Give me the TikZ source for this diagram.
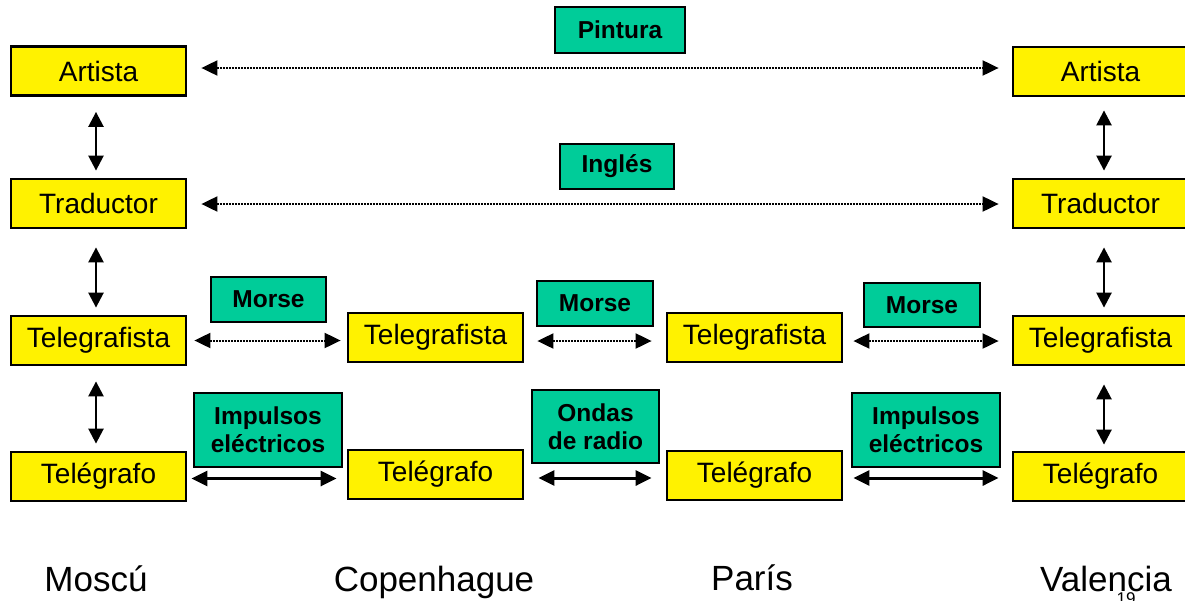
\documentclass[tikz,border=0pt]{standalone}
\usepackage{fontspec}
\setmainfont{Liberation Sans}
\usetikzlibrary{arrows.meta}
\definecolor{verde}{RGB}{0,204,153}

\begin{document}
\begin{tikzpicture}[x=1pt,y=-1pt,
  persona/.style={draw, line width=2.8pt, fill=yellow, minimum width=175pt, minimum height=49pt, inner sep=0pt, font=\fontsize{28}{30}\selectfont},
  medio/.style={draw, line width=2.8pt, fill=verde, inner sep=0pt, align=center, font=\bfseries\fontsize{24.5}{28}\selectfont},
  ciudad/.style={anchor=base, font=\fontsize{35}{40}\selectfont},
  vflecha/.style={{Triangle[length=15pt,width=15pt]}-{Triangle[length=15pt,width=15pt]}, line width=2.5pt, shorten <=15pt, shorten >=7pt},
  hpunt/.style={{Triangle[length=16pt,width=15pt]}-{Triangle[length=16pt,width=15pt]}, line width=2pt, dash pattern=on 2pt off 1pt},
  hlinea/.style={{Triangle[length=16pt,width=15pt]}-{Triangle[length=16pt,width=15pt]}, line width=3pt}]
\useasboundingbox (0,0) rectangle (1185,600);

% Moscu
\node [persona] (artL) at (98.5,71) {Artista};
\node [persona] (tradL) at (98.5,203.5) {Traductor};
\node [persona] (telL) at (98.5,340.5) {Telegrafista};
\node [persona] (grafL) at (98.5,476.5) {Telégrafo};

% Copenhague y Paris
\node [persona] (telC) at (435.5,337.5) {Telegrafista};
\node [persona] (grafC) at (435.5,474.5) {Telégrafo};
\node [persona] (telP) at (754.5,337.5) {Telegrafista};
\node [persona] (grafP) at (754.5,475.5) {Telégrafo};

% Valencia
\node [persona] (artR) at (1100.5,71.5) {Artista};
\node [persona] (tradR) at (1100.5,203.5) {Traductor};
\node [persona] (telR) at (1100.5,340.5) {Telegrafista};
\node [persona] (grafR) at (1100.5,476.5) {Telégrafo};

% medios
\node [medio, minimum width=130pt, minimum height=46pt] (pint) at (620,30) {Pintura};
\node [medio, minimum width=114pt, minimum height=45pt] (ingl) at (617,166.5) {Inglés};
\node [medio, minimum width=115pt, minimum height=45pt] (morse1) at (268.5,299.5) {Morse};
\node [medio, minimum width=116pt, minimum height=45pt] (morse2) at (595,303.5) {Morse};
\node [medio, minimum width=116pt, minimum height=44pt] (morse3) at (922,305) {Morse};
\node [medio, minimum width=148pt, minimum height=74pt] (imp1) at (268,430) {Impulsos\\eléctricos};
\node [medio, minimum width=127pt, minimum height=73pt] (ondas) at (595.5,426.5) {Ondas\\de radio};
\node [medio, minimum width=148pt, minimum height=74pt] (imp2) at (926,430) {Impulsos\\eléctricos};

% verticales
\draw [vflecha] ([xshift=-2.5pt]artL.south) -- ([xshift=-2.5pt]tradL.north);
\draw [vflecha, shorten <=18pt] ([xshift=-2.5pt]tradL.south) -- ([xshift=-2.5pt]telL.north);
\draw [vflecha] ([xshift=-2.5pt]telL.south) -- ([xshift=-2.5pt]grafL.north);
\draw [vflecha, shorten <=13pt] ([xshift=3.5pt]artR.south) -- ([xshift=3.5pt]tradR.north);
\draw [vflecha, shorten <=18pt] ([xshift=3.5pt]tradR.south) -- ([xshift=3.5pt]telR.north);
\draw [vflecha, shorten <=18pt, shorten >=6pt] ([xshift=3.5pt]telR.south) -- ([xshift=3.5pt]grafR.north);

% horizontales
\draw [hpunt, shorten <=14pt, shorten >=13pt] ([yshift=3pt]artL.east) -- ([yshift=3pt]artL.east -| artR.west);
\draw [hpunt, shorten <=14pt, shorten >=13pt] ([yshift=-0.5pt]tradL.east) -- ([yshift=-0.5pt]tradL.east -| tradR.west);
\draw [hpunt, shorten <=7pt, shorten >=6pt] (telL.east) -- (telL.east -| telC.west);
\draw [hpunt, shorten <=13pt, shorten >=14pt] ([yshift=-3.5pt]telC.east) -- ([yshift=-3.5pt]telC.east -| telP.west);
\draw [hpunt, shorten <=10pt, shorten >=13pt] ([yshift=-3.5pt]telP.east) -- ([yshift=-3.5pt]telP.east -| telR.west);
\draw [hlinea, shorten <=4pt, shorten >=10pt] ([yshift=-2pt]grafL.east) -- ([yshift=-2pt]grafL.east -| grafC.west);
\draw [hlinea, shorten <=14pt, shorten >=14pt] ([yshift=-3.5pt]grafC.east) -- ([yshift=-3.5pt]grafC.east -| grafP.west);
\draw [hlinea, shorten <=10pt, shorten >=13pt] ([yshift=-2.5pt]grafP.east) -- ([yshift=-2.5pt]grafP.east -| grafR.west);

% ciudades
\node [ciudad] (moscu) at (96,591) {Moscú};
\node [ciudad] (copen) at (434,591) {Copenhague};
\node [ciudad] (paris) at (752,590) {París};
\node [ciudad] (valen) at (1106,591) {Valencia};
\node [anchor=base, font=\fontsize{17}{20}\selectfont] (pag) at (1126,604) {19};

\end{tikzpicture}
\end{document}
